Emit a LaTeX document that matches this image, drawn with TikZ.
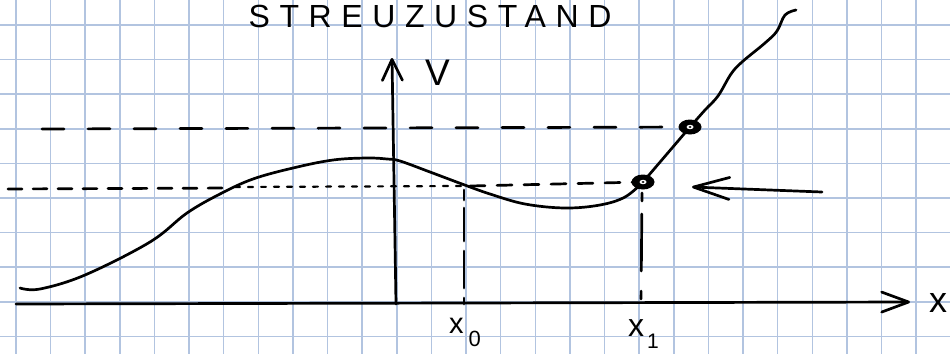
\documentclass[tikz,border=0pt]{standalone}
\usepackage{fontspec}
\setmainfont{Liberation Sans}
\usetikzlibrary{arrows.meta}
\definecolor{gridblue}{RGB}{178,196,224}
\begin{document}
\begin{tikzpicture}[x=1pt,y=-1pt,
  gridline/.style={draw=gridblue,line width=1.5pt},
  ink/.style={line width=2.7pt,line cap=round,line join=round,draw=black},
  barb/.style={-{Straight Barb[length=#1,width=20pt,round]}},
  lbl/.style={inner sep=0pt,anchor=base west}]
\useasboundingbox (0,0) rectangle (950,354);
\fill[white] (0,0) rectangle (950,354);
% grid paper
\foreach \i in {0,...,27}{\draw[gridline] ({16+34.62*\i},0) -- ({16+34.62*\i},354);}
\foreach \j in {0,...,9}{\draw[gridline] (0,{25+34.6*\j}) -- (950,{25+34.6*\j});}
% title
\node[inner sep=0pt,anchor=base,font=\fontsize{32}{34}\selectfont\addfontfeature{LetterSpace=30}] (title) at (430,27) {STREUZUSTAND};
% coordinates
\coordinate (xs) at (16,304);
\coordinate (xe) at (910,302);
\coordinate (ys) at (396,304);
\coordinate (ye) at (392,58);
\coordinate (d1) at (643,182);
\coordinate (d2) at (690,127);
\coordinate (aS) at (822,192);
\coordinate (aE) at (692,187);
% axes
\draw[ink,barb=27pt] (xs) -- (xe);
\draw[ink,barb=21pt] (ys) -- (ye);
% curve
\draw[ink] plot[smooth,tension=0.6] coordinates {(20,288) (40,289) (85,275) (150,242) (187,213) (220,194) (253,179) (293,168) (333,160) (367,158) (387,159) (400,161) (430,172) (462,184) (490,194) (525,204) (565,208) (600,205) (625,197) (643,182)};
\draw[ink] (d1) -- (d2);
\draw[ink] plot[smooth,tension=0.6] coordinates {(690,127) (705,110) (718,96) (731,74) (742,62) (765,43) (777,31) (785,15) (796,10)};
% dashed levels
\draw[ink,dash pattern=on 22pt off 24pt] (42,129) -- (d2);
\draw[ink,dash pattern=on 14pt off 11pt] (8,189) -- (230,188);
\draw[ink,line width=2.2pt,dash pattern=on 5pt off 8pt] (235,187) -- (462,186);
\draw[ink,dash pattern=on 15pt off 12pt] (470,186) -- (d1);
% drops to x axis
\coordinate (x0top) at (464,190);
\coordinate (x0bot) at (464,304);
\coordinate (x1top) at (642,193);
\coordinate (x1bot) at (641,305);
\draw[ink,dash pattern=on 10pt off 8pt on 33pt off 10pt on 37pt off 10pt] (x0top) -- (x0bot);
\draw[ink,dash pattern=on 8pt off 13pt on 57pt off 20pt] (x1top) -- (x1bot);
% dots
\foreach \d in {d1,d2}{
  \fill (\d) ellipse [x radius=11.5pt,y radius=7.5pt];
  \fill[white] (\d) ellipse [x radius=3.5pt,y radius=2.2pt];
  \fill (\d) ellipse [x radius=1.5pt,y radius=1pt];
}
% incoming arrow
\draw[ink,-{Straight Barb[length=36pt,width=22pt,round]}] (aS) -- (aE);
% labels
\node[lbl,font=\fontsize{37}{40}\selectfont] (vlab) at (425,85) {V};
\node[lbl,font=\fontsize{36}{40}\selectfont] (xlab) at (929,312) {x};
\node[lbl,font=\fontsize{29}{32}\selectfont] (x0lab) at (449,333) {x\hspace{5pt}\raisebox{-13pt}{\fontsize{22}{24}\selectfont 0}};
\node[lbl,font=\fontsize{32}{34}\selectfont] (x1lab) at (628,336) {x\hspace{3pt}\raisebox{-12pt}{\fontsize{21}{24}\selectfont 1}};
\end{tikzpicture}
\end{document}
